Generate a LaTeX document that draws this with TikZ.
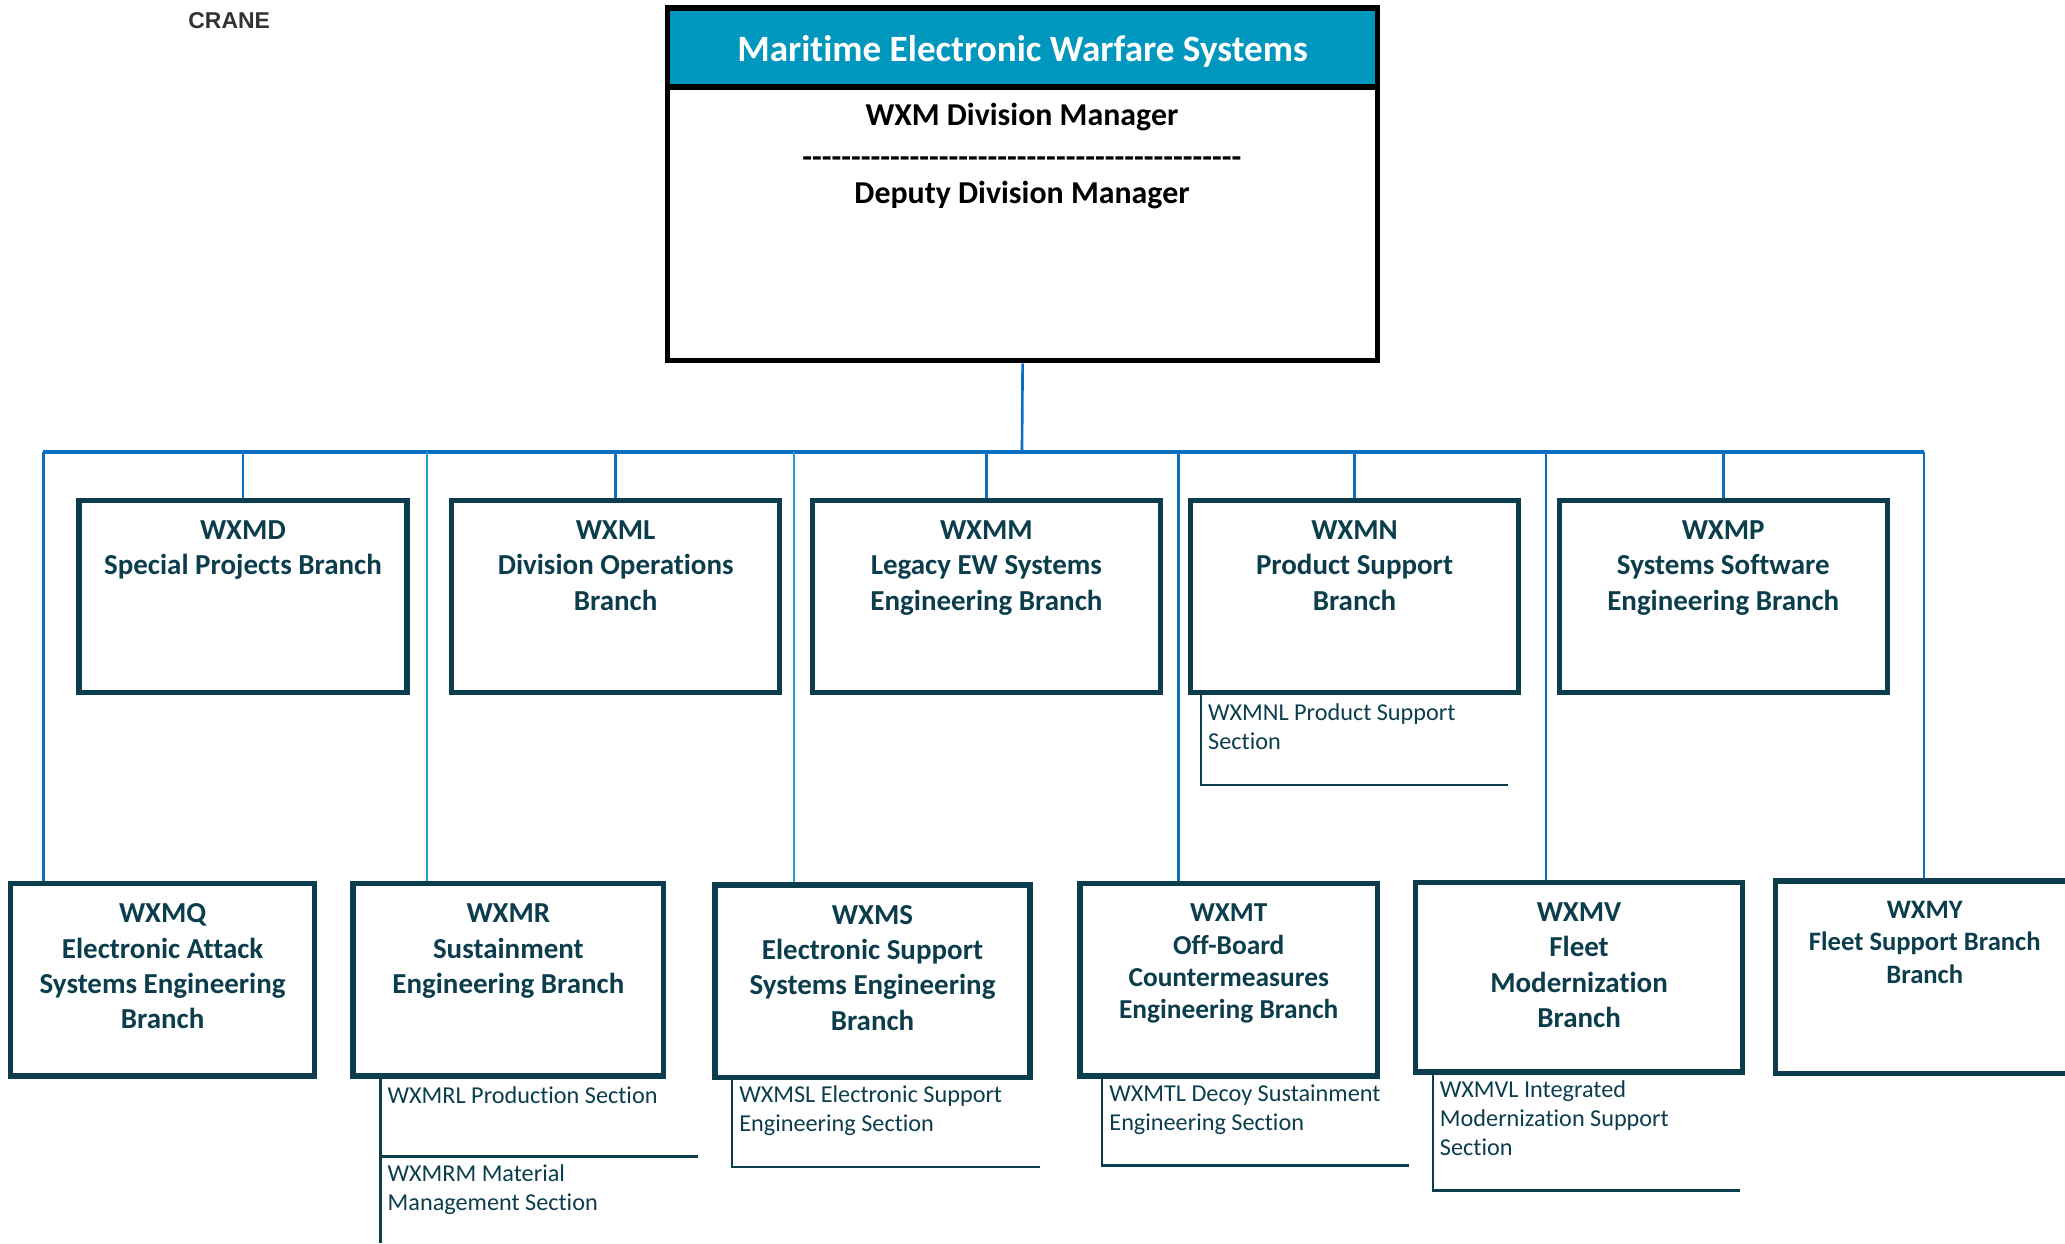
\documentclass[tikz,border=0pt]{standalone}
\usepackage{fontspec}
\setmainfont[Ligatures={TeX,NoCommon}]{Carlito}
\newfontfamily\cranefont{Liberation Sans}
\newfontfamily\dashfont[Ligatures=TeXOff]{Carlito}
\usetikzlibrary{positioning}

\definecolor{boxline}{HTML}{0B3D4C}
\definecolor{boxtext}{HTML}{0B3D4C}
\definecolor{headblue}{HTML}{0097BF}
\definecolor{busblue}{HTML}{0B6EC0}
\definecolor{lightblue}{HTML}{22A0D2}
\definecolor{cranegray}{HTML}{333333}

\tikzset{
  branch/.style={draw=boxline, line width=2pt, inner sep=0pt, minimum height=73pt},
  btext/.style={text=boxtext, align=center, inner sep=0pt, font=\bfseries\fontsize{11}{13.4}\selectfont},
  stext/.style={text=boxtext, align=left, anchor=north west, inner sep=0pt, font=\fontsize{9.2}{11}\selectfont},
  busline/.style={draw=busblue, line width=1.5pt},
  drop/.style={draw=busblue, line width=1pt},
  droplight/.style={draw=lightblue, line width=0.8pt},
  sline/.style={draw=boxline, line width=0.9pt},
  mgrtext/.style={inner sep=0pt, font=\bfseries\fontsize{12.1}{14}\selectfont}
}

\begin{document}
\begin{tikzpicture}[x=0.5pt, y=-0.5pt]
\useasboundingbox (0,0) rectangle (1568,944);

% division box
\node[draw=black, line width=2pt, minimum width=269.5pt, minimum height=134pt, inner sep=0pt] (div) at (776.5,140) {};
\node[draw=black, line width=2pt, fill=headblue, minimum width=269.5pt, minimum height=30pt, inner sep=0pt] (head) at (776.5,36) {};
\node[text=white, inner sep=0pt, font=\bfseries\fontsize{14.1}{16}\selectfont] (head-t) at (776.5,39) {Maritime Electronic Warfare Systems};
\node[mgrtext] (mgr) at (776,89) {WXM Division Manager};
\node[mgrtext, font=\dashfont\bfseries\fontsize{12.1}{14}\selectfont] (dashes) at (776,123) {---------------------------------------------};
\node[mgrtext] (deputy) at (776,148) {Deputy Division Manager};

\node[text=cranegray, font=\cranefont\bfseries\fontsize{8.7}{10}\selectfont] (crane) at (174,16) {CRANE};

% upper branches
\node[branch, minimum width=124.5pt] (wxmd) at (184.5,453) {};
\node[btext, below=8.5pt of wxmd.north] (wxmd-t) {WXMD\\Special Projects Branch};
\node[branch, minimum width=124.5pt] (wxml) at (467.5,453) {};
\node[btext, below=8.5pt of wxml.north] (wxml-t) {WXML\\Division Operations\\Branch};
\node[branch, minimum width=132pt] (wxmm) at (749,453) {};
\node[btext, below=8.5pt of wxmm.north] (wxmm-t) {WXMM\\Legacy EW Systems\\Engineering Branch};
\node[branch, minimum width=124.5pt] (wxmn) at (1028.5,453) {};
\node[btext, below=8.5pt of wxmn.north] (wxmn-t) {WXMN\\Product Support\\Branch};
\node[branch, minimum width=124.5pt] (wxmp) at (1308.5,453) {};
\node[btext, below=8.5pt of wxmp.north] (wxmp-t) {WXMP\\Systems Software\\Engineering Branch};

% lower branches
\node[branch, minimum width=115.5pt] (wxmq) at (123.5,744) {};
\node[btext, below=8.5pt of wxmq.north] (wxmq-t) {WXMQ\\Electronic Attack\\Systems Engineering\\Branch};
\node[branch, minimum width=118pt] (wxmr) at (386,744) {};
\node[btext, below=8.5pt of wxmr.north] (wxmr-t) {WXMR\\Sustainment\\Engineering Branch};
\node[branch, minimum width=119.5pt] (wxms) at (662.5,745) {};
\node[btext, below=8.5pt of wxms.north] (wxms-t) {WXMS\\Electronic Support\\Systems Engineering\\Branch};
\node[branch, minimum width=113pt] (wxmt) at (933,744) {};
\node[btext, below=8.5pt of wxmt.north, font=\bfseries\fontsize{10.4}{12.3}\selectfont] (wxmt-t) {WXMT\\Off-Board\\Countermeasures\\Engineering Branch};
\node[branch, minimum width=124pt, minimum height=72pt] (wxmv) at (1199,742) {};
\node[btext, below=8.5pt of wxmv.north] (wxmv-t) {WXMV\\Fleet\\Modernization\\Branch};
\node[branch, minimum width=113.5pt] (wxmy) at (1461.5,742) {};
\node[btext, below=8.5pt of wxmy.north, font=\bfseries\fontsize{10.1}{12.3}\selectfont] (wxmy-t) {WXMY\\Fleet Support Branch\\Branch};

% connectors
\coordinate (bus) at (776,343);
\coordinate (bus-q) at (33,343);
\coordinate (bus-r) at (324,343);
\coordinate (bus-s) at (603,343);
\coordinate (bus-t) at (895,343);
\coordinate (bus-v) at (1174,343);
\coordinate (bus-y) at (1461,343);
\draw[drop] (div.south) -- (bus);
\draw[busline] (bus-q) -- (bus-y);
\foreach \b in {wxmd,wxml,wxmm,wxmn,wxmp}
  \draw[drop] (\b.north |- bus) -- (\b.north);
\foreach \c/\b in {q/wxmq,t/wxmt,v/wxmv,y/wxmy}
  \draw[drop] (bus-\c) -- (bus-\c |- \b.north);
\draw[droplight] (bus-r) -- (bus-r |- wxmr.north);
\draw[droplight] (bus-s) -- (bus-s |- wxms.north);

% sections
\coordinate (wxmnl-c) at (912,596);
\coordinate (wxmnl-e) at (1145,596);
\draw[sline] (wxmn.south -| wxmnl-c) |- (wxmnl-e);
\node[stext] (wxmnl) at (917,534) {WXMNL Product Support\\Section};

\coordinate (wxmrl-c) at (289,878);
\coordinate (wxmrl-e) at (530,878);
\coordinate (wxmrm-c) at (289,944);
\draw[sline] (wxmr.south -| wxmrl-c) -- (wxmrm-c);
\draw[sline] (wxmrl-c) -- (wxmrl-e);
\node[stext] (wxmrl) at (294,825) {WXMRL Production Section};
\node[stext] (wxmrm) at (294,884) {WXMRM Material\\Management Section};

\coordinate (wxmsl-c) at (556,886);
\coordinate (wxmsl-e) at (790,886);
\draw[sline] (wxms.south -| wxmsl-c) |- (wxmsl-e);
\node[stext] (wxmsl) at (561,824) {WXMSL Electronic Support\\Engineering Section};

\coordinate (wxmtl-c) at (837,885);
\coordinate (wxmtl-e) at (1070,885);
\draw[sline] (wxmt.south -| wxmtl-c) |- (wxmtl-e);
\node[stext] (wxmtl) at (842,823) {WXMTL Decoy Sustainment\\Engineering Section};

\coordinate (wxmvl-c) at (1088,904);
\coordinate (wxmvl-e) at (1321,904);
\draw[sline] (wxmv.south -| wxmvl-c) |- (wxmvl-e);
\node[stext] (wxmvl) at (1093,820) {WXMVL Integrated\\Modernization Support\\Section};
\end{tikzpicture}
\end{document}
